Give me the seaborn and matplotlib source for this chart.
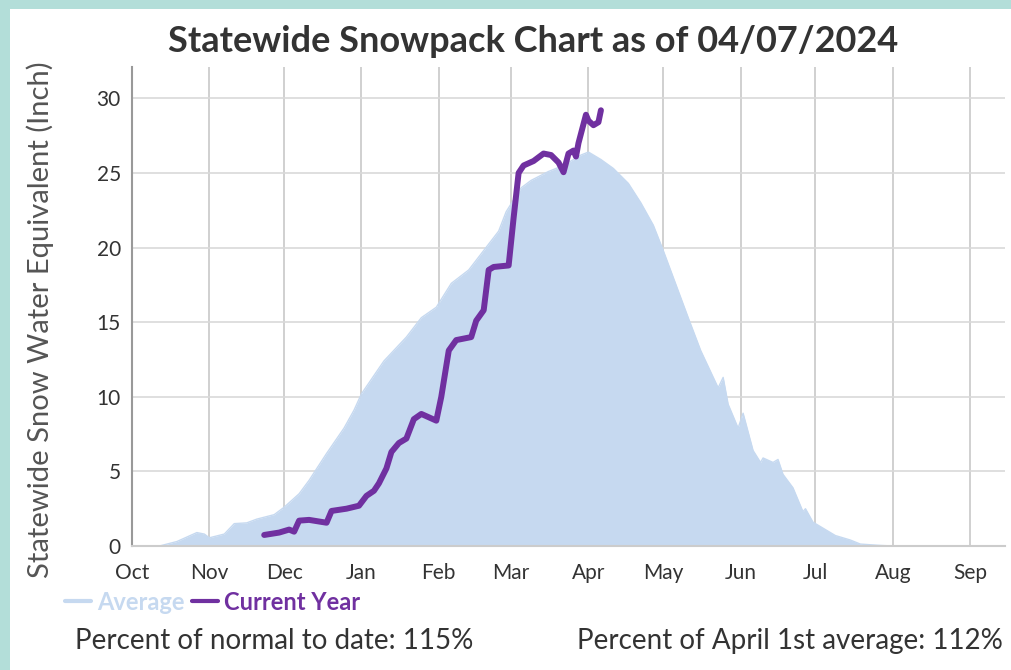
import pandas as pd
import numpy as np
from matplotlib import pyplot as plt
import matplotlib.dates as mdates
from matplotlib.patches import Rectangle
import seaborn as sns

# water year starts Oct 1; x values are days since then
start = pd.Timestamp('2023-10-01')

avg_days = [0, 11, 18, 26, 29, 31, 37, 41, 46, 50, 57, 61, 67, 71, 78, 85, 89, 92,
            101, 110, 116, 122, 128, 135, 141, 147, 150, 156, 160, 167, 173, 180, 183,
            188, 193, 199, 204, 209, 213, 223, 228, 235, 237, 239, 243, 245, 249, 252,
            253, 257, 259, 261, 265, 269, 270, 273, 276, 282, 288, 292, 299, 305, 350]
avg_swe = [0, 0, 0.3, 0.9, 0.8, 0.55, 0.8, 1.5, 1.55, 1.8, 2.1, 2.6, 3.5, 4.4, 6.2, 7.9, 9.1, 10.2,
           12.4, 14.0, 15.3, 16.0, 17.6, 18.5, 19.8, 21.1, 22.4, 24.0, 24.5, 25.1, 25.5, 26.2, 26.4,
           25.9, 25.3, 24.3, 23.0, 21.5, 19.8, 15.3, 13.1, 10.6, 11.3, 9.5, 7.9, 8.9, 6.4, 5.6,
           5.9, 5.6, 5.8, 4.8, 3.9, 2.3, 2.5, 1.6, 1.3, 0.7, 0.4, 0.13, 0.05, 0, 0]

cur_days = [53, 59, 63, 65, 67, 71, 78, 80, 86, 91, 94, 97, 99, 102, 104, 107, 110, 113,
            116, 122, 124, 127, 130, 136, 138, 141, 143, 145, 151, 153, 155, 157, 161, 165,
            168, 171, 173, 175, 177, 178, 179, 182, 183, 185, 187, 188]
cur_swe = [0.74, 0.9, 1.1, 0.96, 1.7, 1.75, 1.56, 2.35, 2.5, 2.7, 3.36, 3.7, 4.2, 5.2, 6.3, 6.9, 7.2, 8.5,
           8.85, 8.4, 10.0, 13.1, 13.8, 14.0, 15.1, 15.8, 18.5, 18.7, 18.8, 22.0, 25.0, 25.5, 25.8, 26.3,
           26.2, 25.7, 25.05, 26.3, 26.5, 26.1, 27.0, 28.9, 28.5, 28.2, 28.4, 29.2]

pct_normal = 115
pct_april = 112

avg = pd.DataFrame({'date': start + pd.to_timedelta(avg_days, unit='D'), 'swe': avg_swe})
cur = pd.DataFrame({'date': start + pd.to_timedelta(cur_days, unit='D'), 'swe': cur_swe})

sns.set_theme(style='white')
plt.rcParams['font.family'] = ['Lato', 'DejaVu Sans']

fill_color = '#c6d9f0'
line_color = '#7030a0'
text_color = '#333333'

fig = plt.figure(figsize=(10.11, 6.70), dpi=100, facecolor='#b3ded9')
fig.patches.append(Rectangle((10 / 1011, 0), 1, 1 - 9 / 670, transform=fig.transFigure,
                             facecolor='white', edgecolor='none', zorder=-5))

ax = fig.add_axes([132 / 1011, 1 - 546 / 670, (1005 - 132) / 1011, (546 - 67) / 670])
ax.set_facecolor('white')

ax.fill_between(avg['date'], 0, avg['swe'], color=fill_color, linewidth=0, zorder=2)
sns.lineplot(x='date', y='swe', data=avg, ax=ax, color=fill_color, linewidth=1,
             label='Average', zorder=2)
sns.lineplot(x='date', y='swe', data=cur, ax=ax, color=line_color, linewidth=4.3,
             label='Current Year', zorder=3)

ax.set_xlim(start, start + pd.Timedelta(days=350))
ax.set_ylim(0, 32.1)
ax.set_yticks([0, 5, 10, 15, 20, 25, 30])
ax.xaxis.set_major_locator(mdates.MonthLocator())
ax.xaxis.set_major_formatter(mdates.DateFormatter('%b'))

ax.grid(axis='y', color='#d9d9d9', linewidth=1.2, zorder=1)
ax.grid(axis='x', color='#c8c8c8', linewidth=1.2, zorder=1)
ax.set_axisbelow(True)

for s in ['top', 'right']:
    ax.spines[s].set_visible(False)
ax.spines['left'].set_color('#999999')
ax.spines['left'].set_linewidth(1.5)
ax.spines['bottom'].set_color('#cccccc')
ax.spines['bottom'].set_linewidth(1.5)

ax.tick_params(axis='both', length=0, labelsize=15, colors=text_color)
ax.tick_params(axis='x', pad=12)
ax.tick_params(axis='y', pad=8)

ax.set_xlabel('')
ax.set_ylabel('Statewide Snow Water Equivalent (Inch)', fontsize=21, color='#555555')
ax.yaxis.set_label_coords(-(132 - 54) / 873, (546 - 320) / 479)

fig.text(533 / 1011, 1 - 42 / 670, 'Statewide Snowpack Chart as of 04/07/2024',
         ha='center', va='center', fontsize=26, fontweight='bold', color=text_color)

leg = ax.legend(loc='center left', bbox_to_anchor=(44 / 1011, 1 - 602 / 670),
                bbox_transform=fig.transFigure, ncol=2, frameon=False,
                handlelength=1.1, handletextpad=0.25, columnspacing=0.3,
                labelcolor='linecolor', prop={'weight': 'bold', 'size': 17})
for h in leg.get_lines():
    h.set_linewidth(3)

fig.text(75 / 1011, 1 - 641 / 670, f'Percent of normal to date: {pct_normal}%',
         ha='left', va='center', fontsize=20, color=text_color)
fig.text(1003 / 1011, 1 - 641 / 670, f'Percent of April 1st average: {pct_april}%',
         ha='right', va='center', fontsize=20, color=text_color)

plt.savefig('out.png', dpi=100, facecolor=fig.get_facecolor())
